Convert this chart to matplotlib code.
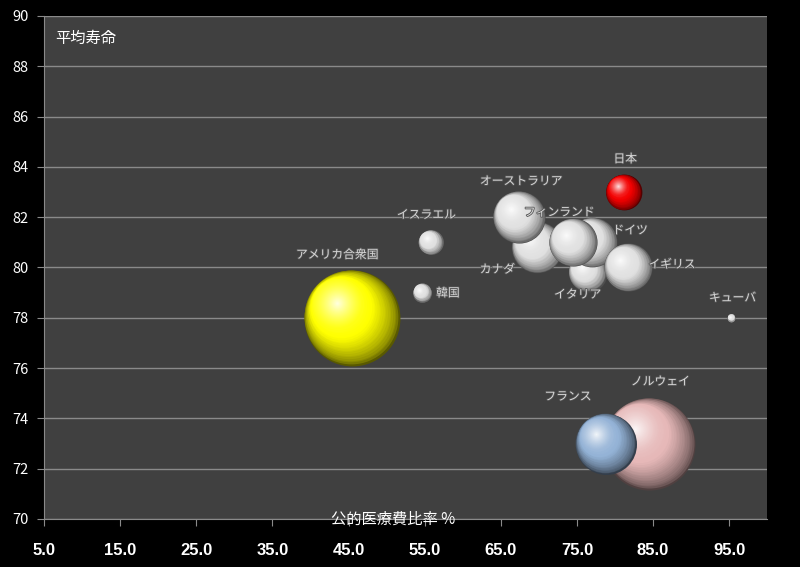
import numpy as np
import matplotlib
matplotlib.use("Agg")
import matplotlib.pyplot as plt
import matplotlib.patheffects as pe
from matplotlib.transforms import offset_copy

plt.rcParams['font.family'] = ['Noto Sans CJK JP', 'DejaVu Sans']

# data
countries = ['ノルウェイ', 'フランス', 'アメリカ合衆国', 'カナダ', 'オーストラリア', 'イタリア',
             'ドイツ', 'フィンランド', 'イギリス', '日本', 'イスラエル', '韓国', 'キューバ']
public_share = [84.5, 78.8, 45.4, 69.8, 67.4, 76.4, 77.0, 74.5, 81.7, 81.15, 55.8, 54.7, 95.3]
life_exp = [73.0, 73.0, 78.0, 80.8, 82.0, 79.8, 81.0, 81.0, 80.0, 83.0, 81.0, 79.0, 78.0]
bubble = [2120, 930, 2300, 660, 680, 360, 620, 580, 580, 320, 155, 90, 16]

xticks = [5.0, 15.0, 25.0, 35.0, 45.0, 55.0, 65.0, 75.0, 85.0, 95.0]
yticks = [70, 72, 74, 76, 78, 80, 82, 84, 86, 88, 90]

# styling
white = (0.88, 0.88, 0.88)
colors = [(0.90, 0.72, 0.72), (0.58, 0.70, 0.84), (1.0, 1.0, 0.0), white, white, white,
          white, white, white, (0.95, 0.0, 0.0), white, white, white]
label_off = [(11, 62), (-38, 47), (-14.5, 63), (-40, -22), (2, 36), (-10, -22),
             (38, 12), (-14, 30), (44, 3), (1.5, 33), (-4.5, 27.5), (25.5, -0.5), (1, 20)]

fig = plt.figure(figsize=(8, 5.67), dpi=100, facecolor='black')
ax = fig.add_axes([0.055, 0.0847, 0.904, 0.8871])
ax.set_facecolor('#404040')
ax.set_xlim(5, 100)
ax.set_ylim(70, 90)

ax.set_yticks(yticks)
ax.set_yticklabels([str(v) for v in yticks])
ax.set_xticks(xticks)
ax.set_xticklabels(['%.1f' % v for v in xticks])
ax.yaxis.grid(True, color='#8a8a8a', linewidth=1)
ax.set_axisbelow(True)
for s in ['top', 'right']:
    ax.spines[s].set_visible(False)
for s in ['left', 'bottom']:
    ax.spines[s].set_color('#8a8a8a')
ax.tick_params(axis='y', colors='#8a8a8a', length=5, labelcolor='white', labelsize=10.5, pad=6)
ax.tick_params(axis='x', colors='#8a8a8a', length=5, labelcolor='white', labelsize=12, pad=12)
for lab in ax.get_xticklabels():
    lab.set_family(['Liberation Sans Narrow', 'Liberation Sans', 'DejaVu Sans'])
    lab.set_fontweight('bold')


def mix(a, b, t):
    return tuple(a[i] + (b[i] - a[i]) * t for i in range(3))


def shade(base, t):
    dark = tuple(c * 0.35 for c in base)
    light = tuple(c + (1 - c) * 0.9 for c in base)
    if t < 0.35:
        return mix(dark, base, (t / 0.35) ** 0.6)
    return mix(base, light, ((t - 0.35) / 0.65) ** 1.4)


N = 45
for i in range(len(countries)):
    r = np.sqrt(bubble[i]) * 0.72  # radius in points
    for k in range(N):
        t = k / N
        rr = r * (1 - t)
        d = 0.62 * r * min(t, 0.5)
        tr = offset_copy(ax.transData, fig=fig, x=-d, y=d, units='points')
        ax.scatter([public_share[i]], [life_exp[i]], s=(2 * rr) ** 2, color=shade(colors[i], t),
                   transform=tr, linewidths=0, zorder=3 + i * 0.01)
    dx, dy = label_off[i]
    ax.annotate(countries[i], (public_share[i], life_exp[i]), xytext=(dx * 0.72, dy * 0.72),
                textcoords='offset points', ha='center', va='center', color='#d8d8d8',
                fontsize=8.5, zorder=10,
                path_effects=[pe.withStroke(linewidth=1.2, foreground='#555555')])

ax.text(0.016, 0.955, '平均寿命', transform=ax.transAxes, color='white', fontsize=11,
        ha='left', va='center')
fig.text(0.491, 0.0847, '公的医療費比率 %', color='white', fontsize=11, ha='center', va='center')

fig.savefig('out.png', dpi=100, facecolor='black')
